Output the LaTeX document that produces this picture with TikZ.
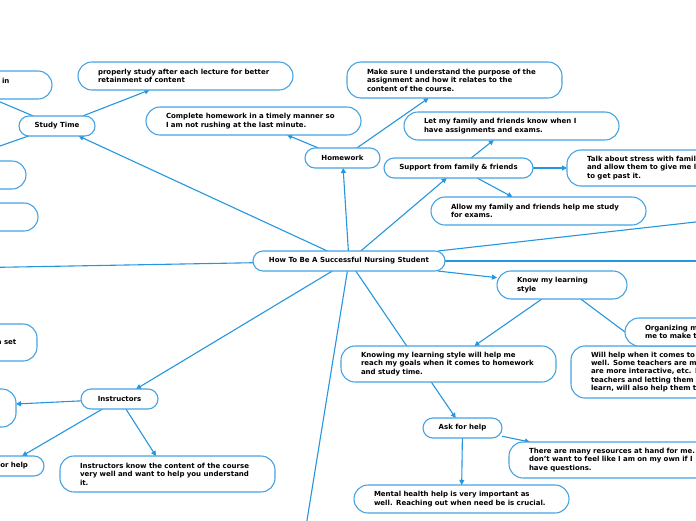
\documentclass[tikz,border=0pt]{standalone}
\usepackage{fontspec}
\setmainfont{DejaVu Sans}
\usepackage{xcolor}
\usetikzlibrary{arrows.meta, positioning, backgrounds}
\definecolor{mapblue}{RGB}{36,150,222}
\definecolor{boxblue}{RGB}{70,163,226}
\newcommand{\notefont}{\fontsize{7}{8.4}\selectfont\bfseries}
\tikzset{
  topic/.style={draw=boxblue, fill=white, line width=1.1pt, rounded corners=10pt,
    minimum height=20pt, inner sep=0pt, outer sep=0pt, font=\notefont},
  note/.style={draw=boxblue, fill=white, line width=1.1pt, rounded corners=14pt,
    text width=175pt, inner xsep=20pt, inner ysep=0pt, outer sep=0pt,
    align=left, anchor=north west, font=\notefont},
  link/.style={mapblue, line width=1.1pt},
  linkto/.style={link, -{Triangle[length=5pt,width=5pt]}},
}

\begin{document}
\begin{tikzpicture}[x=1pt, y=-1pt]
    \useasboundingbox (0,0) rectangle (696,520);
    \clip (0,0) rectangle (696,520);

    % main topics
    \node[topic, minimum width=192pt] (central) at (349,261) {How To Be A Successful Nursing Student};
    \node[topic, minimum width=76pt] (study) at (57,126) {Study Time};
    \node[topic, minimum width=75pt] (homework) at (342.5,158) {Homework};
    \node[topic, minimum width=149pt] (support) at (458.5,168) {Support from family \& friends};
    \node[topic, minimum width=77pt] (instructors) at (119.5,399) {Instructors};
    \node[topic, minimum width=79pt] (askhelp) at (462.5,428) {Ask for help};

    % notes
    \node[note, minimum height=28pt] (afterlecture) at (78,62) {properly study after each lecture for better\\retainment of content};
    \node[note, minimum height=28pt] (ontime) at (146,107) {Complete homework in a timely manner so\\I am not rushing at the last minute.};
    \node[note, minimum height=36pt] (purpose) at (347,62) {Make sure I understand the purpose of the\\assignment and how it relates to the\\content of the course.};
    \node[note, minimum height=28pt] (letknow) at (404,112) {Let my family and friends know when I\\have assignments and exams.};
    \node[note, minimum height=36pt] (stress) at (567,150) {Talk about stress with famil\\and allow them to give me l\\to get past it.};
    \node[note, minimum height=28pt] (studyhelp) at (431,197) {Allow my family and friends help me study\\for exams.};
    \node[note, minimum height=28pt, text width=90pt] (style) at (497,271) {Know my learning\\style};
    \node[note, minimum height=36pt] (goals) at (341,346) {Knowing my learning style will help me\\reach my goals when it comes to homework\\and study time.};
    \node[note, minimum height=52pt] (teachers) at (571,346) {Will help when it comes to\\well. Some teachers are mo\\are more interactive, etc. R\\teachers and letting them l\\learn, will also help them t};
    \node[note, minimum height=28pt] (organize) at (625,318) {Organizing m\\me to make t};
    \node[note, minimum height=36pt] (resources) at (509,442) {There are many resources at hand for me.\\don't want to feel like I am on my own if I\\have questions.};
    \node[note, minimum height=28pt] (mental) at (354,485) {Mental health help is very important as\\well. Reaching out when need be is crucial.};
    \node[note, minimum height=36pt] (content) at (60,456) {Instructors know the content of the course\\very well and want to help you understand\\it.};

    % notes cut by the left edge
    \node[note, minimum height=28pt, text width=30pt] (leftin) at (-18,71) {in\\\mbox{}};
    \node[note, minimum height=28pt, anchor=north east] (leftone) at (26,161) {};
    \node[note, minimum height=28pt, anchor=north east] (lefttwo) at (38,203) {};
    \node[note, minimum height=37pt, text width=20pt, anchor=north east] (leftset) at (37,324) {a set};
    \node[note, minimum height=38pt, text width=126pt, anchor=north east] (leftinst) at (16,389) {};
    \node[note, minimum height=20pt, rounded corners=10pt, text width=46pt, inner xsep=16pt,
      align=right, anchor=north east] (forhelp) at (44,456) {for help};

    % ends that run off the page
    \coordinate (offup) at (-40,85);
    \coordinate (offdown) at (-40,160);
    \coordinate (offleft) at (-40,268);
    \coordinate (offright) at (740,261);
    \coordinate (offupright) at (740,217);
    \coordinate (offbottom) at (303,545);

    \begin{pgfonlayer}{background}
        \draw[linkto] (central) -- (study);
        \draw[linkto] (central) -- (homework);
        \draw[linkto] (central) -- (support);
        \draw[linkto] (central) -- (instructors);
        \draw[linkto] (central) -- (style);
        \draw[linkto] (central) -- (askhelp);
        \draw[link] (central) -- (offleft);
        \draw[link] (central) -- (offright);
        \draw[link] (central) -- (offupright);
        \draw[link] (central) -- (offbottom);

        \draw[linkto] (study) -- (afterlecture);
        \draw[link] (study) -- (offup);
        \draw[link] (study) -- (offdown);

        \draw[linkto] (homework) -- (ontime);
        \draw[linkto] (homework) -- (purpose);

        \draw[linkto] (support) -- (letknow);
        \draw[linkto] (support) -- (stress);
        \draw[linkto] (support) -- (studyhelp);

        \draw[linkto] (style) -- (goals);
        \draw[linkto] (style) -- (teachers);

        \draw[linkto] (askhelp) -- (resources);
        \draw[linkto] (askhelp) -- (mental);

        \draw[linkto] (instructors) -- (leftinst);
        \draw[linkto] (instructors) -- (forhelp);
        \draw[linkto] (instructors) -- (content);
    \end{pgfonlayer}
\end{tikzpicture}
\end{document}
